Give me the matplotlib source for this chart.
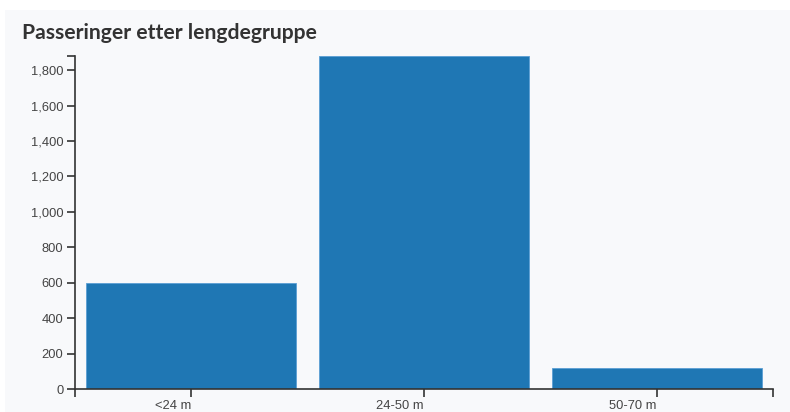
import matplotlib.pyplot as plt
from matplotlib.patches import Rectangle
from matplotlib.ticker import FuncFormatter

categories = ["<24 m", "24-50 m", "50-70 m"]
values = [598, 1880, 117]
y_ticks = [0, 200, 400, 600, 800, 1000, 1200, 1400, 1600, 1800]

plt.rcParams["font.family"] = ["Liberation Sans", "DejaVu Sans"]

W, H = 790, 412
fig = plt.figure(figsize=(W / 100, H / 100), dpi=100, facecolor="white")

# light panel behind the chart
bg = "#f8f9fb"
fig.patches.append(Rectangle((5 / W, 0), 1, (H - 10) / H, transform=fig.transFigure,
                             facecolor=bg, edgecolor="none", zorder=-1))

ax = fig.add_axes([74.5 / W, 1 - 389 / H, (773.3 - 74.5) / W, (389 - 56) / H])
ax.set_facecolor("none")
ax.set_zorder(1)

x = range(len(categories))
ax.bar(x, values, width=0.9, color="#1f77b4", edgecolor="#5a9fd4", linewidth=0.6)

ax.set_xlim(-0.5, len(categories) - 0.5)
ax.set_ylim(0, max(values))

axis_col = "#333333"
for s in ["top", "right"]:
    ax.spines[s].set_visible(False)
for s in ["left", "bottom"]:
    ax.spines[s].set_color(axis_col)
    ax.spines[s].set_linewidth(1.2)

ax.set_xticks(list(x))
ax.set_xticklabels(categories, ha="right")
ax.set_yticks(y_ticks)
ax.yaxis.set_major_formatter(FuncFormatter(lambda v, p: f"{int(v):,}"))

# outer ticks at axis ends
ax.set_xticks([-0.5, len(categories) - 0.5], minor=True)
ax.set_yticks([max(values)], minor=True)

ax.tick_params(which="both", length=6, width=1.2, color=axis_col,
               labelsize=9.3, labelcolor="#444444", pad=2)

fig.text(22 / W, 1 - 33 / H, "Passeringer etter lengdegruppe", fontsize=15.2,
         fontweight="bold", color="#333333", va="center", ha="left", family="Lato")

fig.savefig("out.png", dpi=100, facecolor="white")
